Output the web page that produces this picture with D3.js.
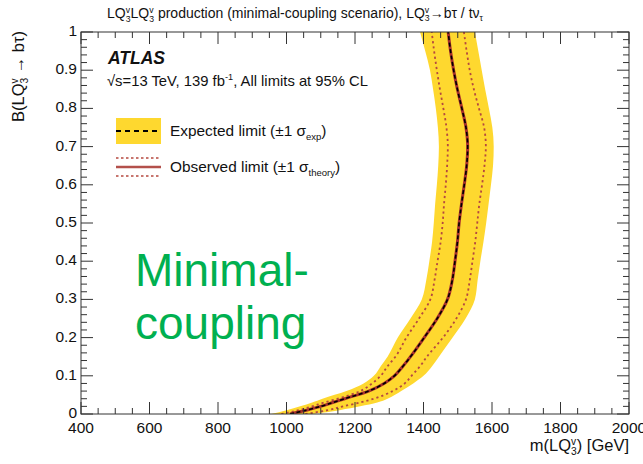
<!DOCTYPE html>
<html>
<head>
<meta charset="utf-8">
<script src="https://cdn.jsdelivr.net/npm/d3@7"></script>
<style>
  html, body { margin: 0; padding: 0; background: #fff; }
  svg { display: block; }
  text { font-family: "Liberation Sans", Arial, sans-serif; fill: #111; }
</style>
</head>
<body>
<svg id="chart" width="643" height="464"></svg>
<script>
// Branching ratio grid (y) on which every limit contour is sampled
const branching = [0, 0.01, 0.02, 0.03, 0.04, 0.06, 0.08, 0.10, 0.125, 0.15, 0.2, 0.25, 0.3,
  0.35, 0.4, 0.45, 0.5, 0.55, 0.6, 0.65, 0.7, 0.75, 0.8, 0.85, 0.9, 0.95, 1.0];

// Expected limit on the leptoquark mass [GeV] and its ±1σ band
const expectedMass = [1010, 1058, 1100, 1135, 1170, 1240, 1285, 1315, 1340, 1362, 1402, 1440, 1470,
  1484, 1492, 1499, 1504, 1511, 1519, 1526, 1529, 1524, 1512, 1499, 1488, 1479, 1472];
const expectedLow = [955, 1000, 1040, 1075, 1105, 1175, 1225, 1255, 1275, 1295, 1325, 1362, 1395,
  1408, 1417, 1425, 1430, 1434, 1439, 1443, 1445, 1442, 1436, 1428, 1419, 1405, 1390];
const expectedHigh = [1075, 1155, 1215, 1265, 1295, 1335, 1370, 1400, 1425, 1445, 1485, 1523, 1550,
  1558, 1566, 1575, 1583, 1590, 1597, 1603, 1605, 1601, 1591, 1580, 1570, 1560, 1550];

// Observed limit and its ±1σ theory variations
const observedMass = [1010, 1058, 1100, 1135, 1170, 1240, 1285, 1315, 1340, 1362, 1402, 1440, 1470,
  1484, 1492, 1499, 1504, 1511, 1519, 1526, 1529, 1524, 1512, 1499, 1488, 1479, 1472];
const observedLow = [985, 1035, 1075, 1110, 1150, 1215, 1250, 1275, 1295, 1318, 1350, 1387, 1420,
  1432, 1441, 1450, 1456, 1460, 1465, 1469, 1471, 1467, 1458, 1448, 1439, 1431, 1424];
const observedHigh = [1055, 1120, 1165, 1215, 1255, 1310, 1345, 1365, 1390, 1410, 1457, 1496, 1524,
  1535, 1543, 1551, 1557, 1563, 1571, 1578, 1582, 1577, 1562, 1547, 1535, 1526, 1518];

// Axis ticks
const xMajorTicks = [400, 600, 800, 1000, 1200, 1400, 1600, 1800, 2000];
const yMajorTicks = [0, 0.1, 0.2, 0.3, 0.4, 0.5, 0.6, 0.7, 0.8, 0.9, 1];
const yTickLabels = ["0", "0.1", "0.2", "0.3", "0.4", "0.5", "0.6", "0.7", "0.8", "0.9", "1"];

const colors = {
  band: "#fed82f",
  observed: "#a8302b",
  theory: "#b5483f",
  expected: "#000",
  axis: "#333",
  note: "#00b050"
};

const svg = d3.select("#chart");
const plot = { left: 81, right: 629, top: 32, bottom: 414 };

const x = d3.scaleLinear().domain([400, 2000]).range([plot.left, plot.right]);
const y = d3.scaleLinear().domain([0, 1]).range([plot.bottom, plot.top]);

svg.append("clipPath").attr("id", "plot-clip")
  .append("rect")
  .attr("x", plot.left).attr("y", plot.top)
  .attr("width", plot.right - plot.left).attr("height", plot.bottom - plot.top);

const rows = branching.map((b, i) => ({
  b,
  exp: expectedMass[i], expLo: expectedLow[i], expHi: expectedHigh[i],
  obs: observedMass[i], obsLo: observedLow[i], obsHi: observedHigh[i]
}));

const curve = d3.curveMonotoneY;
const layer = svg.append("g").attr("clip-path", "url(#plot-clip)");

// ±1σ expected band
layer.append("path")
  .datum(rows)
  .attr("fill", colors.band)
  .attr("d", d3.area().curve(curve)
    .y(d => y(d.b)).x0(d => x(d.expLo)).x1(d => x(d.expHi)));

const lineOf = key => d3.line().curve(curve).y(d => y(d.b)).x(d => x(d[key]));

// theory variations of the observed limit
["obsLo", "obsHi"].forEach(key => {
  layer.append("path").datum(rows)
    .attr("fill", "none").attr("stroke", colors.theory)
    .attr("stroke-width", 1.8).attr("stroke-dasharray", "2.2,3")
    .attr("d", lineOf(key));
});

// observed limit
layer.append("path").datum(rows)
  .attr("fill", "none").attr("stroke", colors.observed)
  .attr("stroke-width", 3).attr("d", lineOf("obs"));

// expected limit
layer.append("path").datum(rows)
  .attr("fill", "none").attr("stroke", colors.expected)
  .attr("stroke-width", 1.6).attr("stroke-dasharray", "4,2.5")
  .attr("d", lineOf("exp"));

// ---- axes (ticks on all four sides, pointing inward) ----
const axes = svg.append("g").attr("stroke", colors.axis).attr("stroke-width", 1);
axes.append("rect")
  .attr("x", plot.left).attr("y", plot.top)
  .attr("width", plot.right - plot.left).attr("height", plot.bottom - plot.top)
  .attr("fill", "none");

const xMinor = d3.range(400, 2000.1, 50);
xMinor.forEach(v => {
  const major = xMajorTicks.includes(v);
  const len = major ? 12 : 6;
  axes.append("line").attr("x1", x(v)).attr("x2", x(v))
    .attr("y1", plot.bottom).attr("y2", plot.bottom - len);
  axes.append("line").attr("x1", x(v)).attr("x2", x(v))
    .attr("y1", plot.top).attr("y2", plot.top + len);
});

const yMinor = d3.range(0, 51).map(i => i / 50);
yMinor.forEach((v, i) => {
  const major = i % 5 === 0;
  const len = major ? 12 : 6;
  axes.append("line").attr("y1", y(v)).attr("y2", y(v))
    .attr("x1", plot.left).attr("x2", plot.left + len);
  axes.append("line").attr("y1", y(v)).attr("y2", y(v))
    .attr("x1", plot.right).attr("x2", plot.right - len);
});

svg.append("g").selectAll("text").data(xMajorTicks).join("text")
  .attr("x", d => x(d)).attr("y", plot.bottom + 19)
  .attr("text-anchor", "middle").attr("font-size", 15.5)
  .text(d => d);

svg.append("g").selectAll("text").data(yMajorTicks).join("text")
  .attr("x", plot.left - 4).attr("y", d => y(d) + 4)
  .attr("text-anchor", "end").attr("font-size", 15.5)
  .text((d, i) => yTickLabels[i]);

// ---- rich text helper: normal, superscript, subscript, stacked sup+sub ----
function richText(parent, px, py, parts, size, anchor, rotate) {
  const t = parent.append("text")
    .attr("x", px).attr("y", py)
    .attr("font-size", size)
    .attr("text-anchor", anchor || "start");
  if (rotate) t.attr("transform", `rotate(${rotate},${px},${py})`);
  const small = size * 0.62;
  let shift = 0;
  parts.forEach(p => {
    if (p.n !== undefined) {
      t.append("tspan").attr("dy", -shift).text(p.n);
      shift = 0;
    } else if (p.sup !== undefined) {
      const s = -size * 0.38;
      t.append("tspan").attr("dy", s - shift).attr("font-size", small).text(p.sup);
      shift = s;
    } else if (p.sub !== undefined) {
      const s = size * 0.25;
      t.append("tspan").attr("dy", s - shift).attr("font-size", small).text(p.sub);
      shift = s;
    } else if (p.stack) {
      const s1 = -size * 0.38, s2 = size * 0.25;
      t.append("tspan").attr("dy", s1 - shift).attr("font-size", small).text(p.stack[0]);
      t.append("tspan").attr("dy", s2 - s1).attr("dx", -small * 0.5)
        .attr("font-size", small).text(p.stack[1]);
      shift = s2;
    }
  });
  if (shift !== 0) t.append("tspan").attr("dy", -shift).text("");
  return t;
}

// title
richText(svg, 107, 18, [
  { n: "LQ" }, { stack: ["v", "3"] }, { n: "LQ" }, { stack: ["v", "3"] },
  { n: " production (minimal-coupling scenario), LQ" }, { stack: ["v", "3"] },
  { n: "→bτ / tν" }, { sub: "τ" }
], 14);

// axis titles
richText(svg, 629, 451, [
  { n: "m(LQ" }, { stack: ["v", "3"] }, { n: ") [GeV]" }
], 16.5, "end");

richText(svg, 24, 31, [
  { n: "B(LQ" }, { stack: ["v", "3"] }, { n: " → bτ)" }
], 16.5, "end", -90);

// experiment label
svg.append("text").attr("x", 108).attr("y", 64)
  .attr("font-size", 17.5).attr("font-weight", "bold").attr("font-style", "italic")
  .text("ATLAS");
richText(svg, 107, 86, [
  { n: "√s=13 TeV, 139 fb" }, { sup: "-1" }, { n: ", All limits at 95% CL" }
], 14.8);

// legend
const leg = svg.append("g");
leg.append("rect").attr("x", 116).attr("y", 118).attr("width", 45).attr("height", 26)
  .attr("fill", colors.band);
leg.append("line").attr("x1", 116).attr("x2", 161).attr("y1", 131).attr("y2", 131)
  .attr("stroke", colors.expected).attr("stroke-width", 1.8).attr("stroke-dasharray", "5,4");
richText(leg, 170, 136, [
  { n: "Expected limit (±1 σ" }, { sub: "exp" }, { n: ")" }
], 15.4);

[158, 176].forEach(yy => {
  leg.append("line").attr("x1", 116).attr("x2", 161).attr("y1", yy).attr("y2", yy)
    .attr("stroke", colors.theory).attr("stroke-width", 1.4).attr("stroke-dasharray", "2.5,2.5");
});
leg.append("line").attr("x1", 116).attr("x2", 161).attr("y1", 167).attr("y2", 167)
  .attr("stroke", "#b3504b").attr("stroke-width", 2.5);
richText(leg, 170, 172, [
  { n: "Observed limit (±1 σ" }, { sub: "theory" }, { n: ")" }
], 15.4);

// scenario annotation
const note = svg.append("text")
  .attr("font-family", "Lato, 'Open Sans', sans-serif")
  .attr("font-size", 46).style("fill", colors.note);
note.append("tspan").attr("x", 135).attr("y", 286).text("Minimal-");
note.append("tspan").attr("x", 135).attr("y", 339).text("coupling");
</script>
</body>
</html>
